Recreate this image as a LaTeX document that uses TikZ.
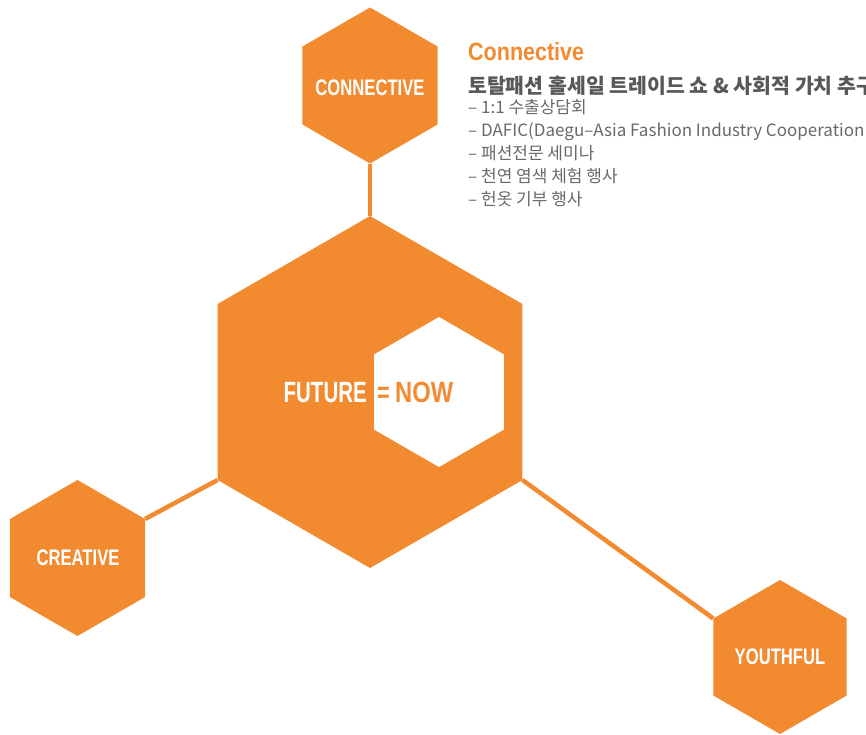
\documentclass[tikz,border=0pt]{standalone}
\usepackage{fontspec}
\setmainfont{Liberation Sans}
\newfontfamily\krfont{Noto Sans CJK KR}
\usetikzlibrary{shapes.geometric,positioning}
\definecolor{hexorange}{RGB}{242,138,48}
\definecolor{headgray}{RGB}{88,88,88}
\definecolor{itemgray}{RGB}{105,105,105}
\newcommand{\narrow}[1]{\scalebox{0.74}[1]{#1}}

\begin{document}
\begin{tikzpicture}[x=1pt,y=-1pt,
    hex/.style={regular polygon,regular polygon sides=6,shape border rotate=30,fill=hexorange,inner sep=0pt,outer sep=0pt},
    link/.style={draw=hexorange,line width=4.5pt},
    hexlabel/.style={anchor=base,inner sep=0pt,text=white,font=\bfseries\fontsize{22.5}{22.5}\selectfont},
    bigword/.style={inner sep=0pt,font=\bfseries\fontsize{29.3}{29.3}\selectfont},
    item/.style={anchor=base west,inner sep=0pt,text=itemgray,font=\krfont\fontsize{17}{17}\selectfont}]

    \clip (0,0) rectangle (866,735);

    % hexagons
    \node[hex, minimum size=352pt] (big) at (370,392) {};
    \node[hex, minimum size=150pt, fill=white] (hole) at (439,392) {};
    \node[hex, minimum size=156pt] (conn) at (370,85.5) {};
    \node[hex, minimum size=156pt] (creat) at (77.5,558) {};
    \node[hex, minimum size=154pt] (youth) at (780,657) {};

    \draw[link] (conn.270) -- (big.90);
    \draw[link] (creat.30) -- (big.210);
    \draw[link] (big.330) -- (youth.150);

    % labels
    \node[hexlabel] (connlbl) at (370,96) {\narrow{CONNECTIVE}};
    \node[hexlabel] (creatlbl) at (78,565.7) {\narrow{CREATIVE}};
    \node[hexlabel] (youthlbl) at (780,664) {\narrow{YOUTHFUL}};

    \node[bigword, text=white, anchor=base east] (future) at (367,402.7) {\scalebox{0.70}[1]{FUTURE}};
    \node[bigword, text=hexorange, anchor=base] (equal) at (383.5,402.7) {\narrow{=}};
    \node[bigword, text=hexorange, anchor=base west] (now) at (395,402.7) {\scalebox{0.81}[1]{NOW}};

    % text block
    \node[anchor=base west, inner sep=0pt, text=hexorange, font=\bfseries\fontsize{25}{25}\selectfont] (title) at (468,60.7) {\scalebox{0.86}[1]{Connective}};
    \node[anchor=base west, inner sep=0pt, text=headgray, font=\krfont\bfseries\fontsize{20.5}{20.5}\selectfont] (subtitle) at (468,93.5) {토탈패션 홀세일 트레이드 쇼 \& 사회적 가치 추구};
    \foreach \txt [count=\i from 0] in {1:1 수출상담회, DAFIC(Daegu–Asia Fashion Industry Cooperation, 패션전문 세미나, 천연 염색 체험 행사, 헌옷 기부 행사}
        \node[item] (item\i) at (468,114+22.9*\i) {– \txt};

\end{tikzpicture}
\end{document}
